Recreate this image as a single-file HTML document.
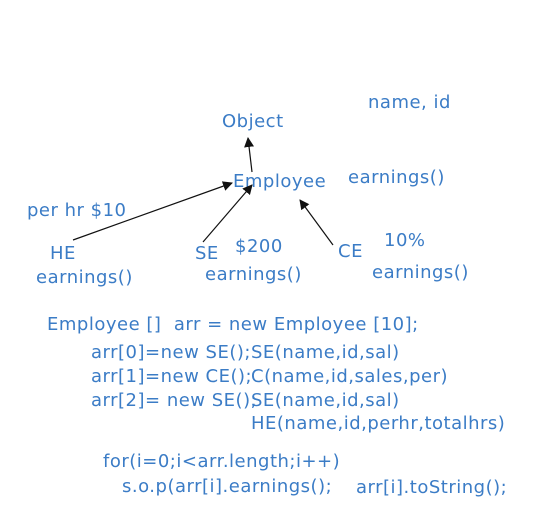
<!DOCTYPE html>
<html><head><style>
body{margin:0;width:536px;height:511px;background:#fff;position:relative;overflow:hidden;font-family:"DejaVu Sans","Liberation Sans",sans-serif;color:#3b7cc6;font-size:18px;letter-spacing:0.5px}
.t{position:absolute;white-space:pre;line-height:20px}
svg{position:absolute;left:0;top:0}
</style></head><body>
<div class="t" style="left:368px;top:93px">name, id</div>
<div class="t" style="left:222px;top:112px">Object</div>
<div class="t" style="left:233px;top:172px">Employee</div>
<div class="t" style="left:348px;top:168px">earnings()</div>
<div class="t" style="left:27px;top:201px">per hr $10</div>
<div class="t" style="left:50px;top:244px">HE</div>
<div class="t" style="left:195px;top:244px">SE</div>
<div class="t" style="left:235px;top:237px">$200</div>
<div class="t" style="left:338px;top:242px">CE</div>
<div class="t" style="left:384px;top:231px">10%</div>
<div class="t" style="left:36px;top:268px">earnings()</div>
<div class="t" style="left:205px;top:265px">earnings()</div>
<div class="t" style="left:372px;top:263px">earnings()</div>
<div class="t" style="left:47px;top:315px">Employee []  arr = new Employee [10];</div>
<div class="t" style="left:91px;top:343px">arr[0]=new SE();</div>
<div class="t" style="left:251px;top:343px">SE(name,id,sal)</div>
<div class="t" style="left:91px;top:367px">arr[1]=new CE();</div>
<div class="t" style="left:251px;top:367px">C(name,id,sales,per)</div>
<div class="t" style="left:91px;top:391px">arr[2]= new SE();</div>
<div class="t" style="left:251px;top:391px">SE(name,id,sal)</div>
<div class="t" style="left:251px;top:414px">HE(name,id,perhr,totalhrs)</div>
<div class="t" style="left:103px;top:452px">for(i=0;i&lt;arr.length;i++)</div>
<div class="t" style="left:122px;top:477px">s.o.p(arr[i].earnings();</div>
<div class="t" style="left:356px;top:478px">arr[i].toString();</div>
<svg width="536" height="511">
<defs><marker id="a" markerWidth="10" markerHeight="10" refX="9" refY="5" orient="auto" markerUnits="userSpaceOnUse"><path d="M0,0 L10,5 L0,10 z" fill="#111"/></marker></defs>
<g stroke="#111" stroke-width="1.2" marker-end="url(#a)">
<line x1="252" y1="172" x2="248" y2="138"/>
<line x1="73" y1="240" x2="232" y2="183"/>
<line x1="203" y1="242" x2="252" y2="185"/>
<line x1="333" y1="245" x2="300" y2="200"/>
</g></svg>
</body></html>
